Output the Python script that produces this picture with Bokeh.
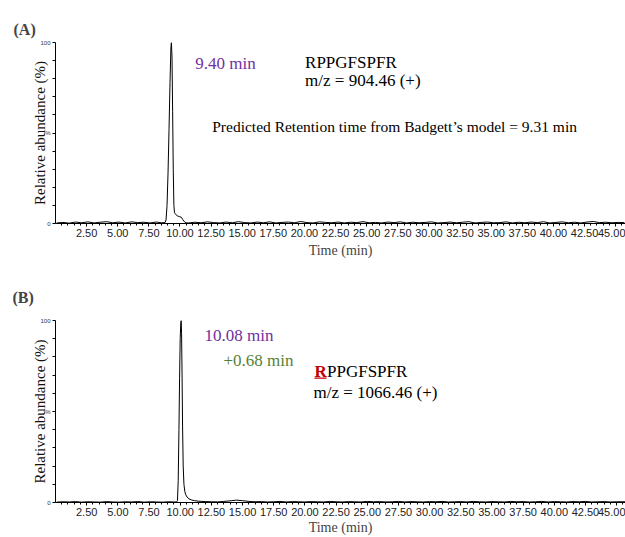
import math
from bokeh.plotting import figure
from bokeh.models import Label, FixedTicker, NumeralTickFormatter, BoxAnnotation, Range1d
from bokeh.layouts import column
from bokeh.embed import file_html
from bokeh.resources import INLINE

# ---------------- data ----------------
x_tick_values = [2.5, 5.0, 7.5, 10.0, 12.5, 15.0, 17.5, 20.0, 22.5, 25.0, 27.5, 30.0,
                 32.5, 35.0, 37.5, 40.0, 42.5, 45.0]
y_tick_values = [0, 10, 20, 30, 40, 50, 60, 70, 80, 90, 100]
y_tick_labels = {0: "0", 50: "%", 100: "100"}

# Panel A: RPPGFSPFR, peak near 9.40 min
peak_a_time = [8.80, 8.88, 8.96, 9.04, 9.12, 9.20, 9.27, 9.31, 9.36, 9.41, 9.46, 9.51,
               9.56, 9.66, 9.80, 9.95, 10.10, 10.22, 10.35, 10.50]
peak_a_int = [0.5, 2, 10, 28, 52, 78, 97, 100, 92, 62, 30, 10,
              6, 5, 4.2, 3.8, 3.5, 2.2, 1.0, 0.4]
base_a_time = [0.1, 0.6, 1.1, 1.6, 2.1, 2.6, 3.1, 3.6, 4.1, 4.6, 5.1, 5.6, 6.1, 6.6, 7.1,
               7.6, 8.1, 8.5,
               10.7, 11.2, 11.7, 12.2, 12.7, 13.2, 13.7, 14.2, 14.7, 15.2, 15.7, 16.2,
               16.7, 17.2, 17.7, 18.2, 18.7, 19.2, 19.7, 20.2, 20.7, 21.2, 21.7, 22.2,
               22.7, 23.2, 23.7, 24.2, 24.7, 25.2, 25.7, 26.2, 26.7, 27.2, 27.7, 28.2,
               28.7, 29.2, 29.7, 30.2, 30.7, 31.2, 31.7, 32.2, 32.7, 33.2, 33.7, 34.2,
               34.7, 35.2, 35.7, 36.2, 36.7, 37.2, 37.7, 38.2, 38.7, 39.2, 39.7, 40.2,
               40.7, 41.2, 41.7, 42.2, 42.7, 43.2, 43.7, 44.2, 44.7, 45.2, 45.7]
base_a_int = [0.3, 0.6, 0.2, 0.8, 0.4, 0.9, 0.3, 0.7, 1.0, 0.4, 0.8, 0.3, 0.9, 0.5, 0.7,
              0.3, 0.8, 0.4,
              0.3, 0.7, 0.4, 0.9, 0.5, 0.3, 0.8, 0.4, 1.0, 0.5, 0.3, 0.8,
              0.4, 0.9, 0.3, 0.6, 0.8, 0.4, 1.1, 0.5, 0.3, 0.9, 0.6, 0.4,
              0.8, 0.3, 0.7, 0.5, 1.0, 0.4, 0.6, 0.3, 0.8, 0.5, 0.9, 0.3,
              0.7, 0.4, 0.6, 0.9, 0.3, 0.5, 0.8, 0.4, 0.7, 1.0, 0.3, 0.6,
              0.8, 0.4, 0.5, 0.9, 0.3, 0.7, 0.4, 0.8, 0.5, 1.0, 0.3, 0.6,
              0.9, 0.4, 0.7, 0.3, 0.8, 1.1, 0.5, 0.7, 0.4, 0.6, 0.5]

# Panel B: RRPPGFSPFR, peak near 10.08 min
peak_b_time = [9.70, 9.78, 9.84, 9.90, 9.95, 10.00, 10.05, 10.08, 10.11, 10.15, 10.19,
               10.24, 10.30, 10.37, 10.45, 10.55, 10.70, 10.90, 11.15, 11.50, 12.00,
               12.50, 13.00]
peak_b_int = [0.3, 1, 12, 40, 68, 90, 99, 100, 93, 70, 42,
              20, 10, 6, 4.2, 3.0, 2.0, 1.4, 1.0, 0.7, 0.5,
              0.4, 0.35]
base_b_time = [0.1, 0.6, 1.1, 1.6, 2.1, 2.6, 3.1, 3.6, 4.1, 4.6, 5.1, 5.6, 6.1, 6.6, 7.1,
               7.6, 8.1, 8.6, 9.1, 9.5,
               13.5, 14.0, 14.5, 15.0, 15.5, 16.0, 16.5, 17.0, 17.5, 18.0, 18.5, 19.0,
               19.5, 20.0, 20.5, 21.0, 21.5, 22.0, 22.5, 23.0, 23.5, 24.0, 24.5, 25.0,
               25.5, 26.0, 26.5, 27.0, 27.5, 28.0, 28.5, 29.0, 29.5, 30.0, 30.5, 31.0,
               31.5, 32.0, 32.5, 33.0, 33.5, 34.0, 34.5, 35.0, 35.5, 36.0, 36.5, 37.0,
               37.5, 38.0, 38.5, 39.0, 39.5, 40.0, 40.5, 41.0, 41.5, 42.0, 42.5, 43.0,
               43.5, 44.0, 44.5, 45.0, 45.7]
base_b_int = [0.2, 0.4, 0.3, 0.5, 0.2, 0.4, 0.3, 0.2, 0.5, 0.3, 0.2, 0.4, 0.3, 0.5, 0.2,
              0.4, 0.3, 0.2, 0.4, 0.3,
              0.6, 0.9, 1.3, 1.0, 0.6, 0.4, 0.5, 0.3, 0.4, 0.6, 0.3, 0.5,
              0.4, 0.3, 0.5, 0.4, 0.3, 0.6, 0.4, 0.3, 0.5, 0.4, 0.3, 0.6,
              0.4, 0.5, 0.3, 0.4, 0.6, 0.3, 0.5, 0.4, 0.3, 0.5, 0.4, 0.6,
              0.3, 0.4, 0.5, 0.3, 0.6, 0.4, 0.3, 0.5, 0.4, 0.3, 0.6, 0.4,
              0.5, 0.3, 0.4, 0.6, 0.3, 0.5, 0.4, 0.3, 0.5, 0.4, 0.6, 0.3,
              0.4, 0.5, 0.3, 0.4, 0.4]

# ---------------- styling ----------------
SERIF = "Liberation Serif"
SANS = "Liberation Sans Narrow, Liberation Sans"
PURPLE = "#7030A0"
GREEN = "#548235"
RED = "#C00000"
PX_PER_MIN = 12.47
FIG_W = 625


def merged(t1, i1, t2, i2):
    pts = sorted(zip(list(t1) + list(t2), list(i1) + list(i2)))
    return [a for a, _ in pts], [b for _, b in pts]


def make_panel(time, inten, height, b_top, b_bottom, b_left, tag, tag_standoff, xlabel_standoff):
    x_end = (FIG_W - b_left) / PX_PER_MIN
    p = figure(width=FIG_W, height=height, output_backend="svg", toolbar_location=None,
               x_range=Range1d(0, x_end), y_range=Range1d(0, 100),
               min_border_left=b_left, min_border_right=0,
               min_border_top=b_top, min_border_bottom=b_bottom)
    p.outline_line_color = None
    p.xgrid.visible = False
    p.ygrid.visible = False
    p.line(time, inten, line_color="black", line_width=1)

    p.title.text = tag
    p.title.text_font = SERIF
    p.title.text_font_size = "16px"
    p.title.text_font_style = "bold"
    p.title.align = "left"
    p.title.offset = 12 - b_left
    p.title.standoff = tag_standoff

    xa = p.xaxis[0]
    xa.ticker = FixedTicker(ticks=x_tick_values, minor_ticks=[k * 0.5 for k in range(1, 92)])
    xa.formatter = NumeralTickFormatter(format="0.00")
    xa.major_label_text_font = SANS
    xa.major_label_text_font_size = "11px"
    xa.major_label_text_color = "#222222"
    xa.major_label_standoff = 2
    xa.major_tick_in = 0
    xa.major_tick_out = 3
    xa.minor_tick_in = 0
    xa.minor_tick_out = 2
    xa.axis_line_color = "black"
    xa.axis_label = "Time (min)"
    xa.axis_label_text_font = SERIF
    xa.axis_label_text_font_size = "14px"
    xa.axis_label_text_font_style = "normal"
    xa.axis_label_standoff = xlabel_standoff

    ya = p.yaxis[0]
    ya.ticker = FixedTicker(ticks=y_tick_values, minor_ticks=[])
    ya.major_label_overrides = {k: y_tick_labels.get(k, "") for k in y_tick_values}
    ya.major_label_text_font = SANS
    ya.major_label_text_font_size = "6px"
    ya.major_label_text_color = "#333333"
    ya.major_label_standoff = 2
    ya.major_tick_in = 0
    ya.major_tick_out = 3
    ya.minor_tick_in = 0
    ya.minor_tick_out = 0
    ya.axis_line_color = "black"
    ya.axis_label = "Relative abundance (%)"
    ya.axis_label_text_font = SERIF
    ya.axis_label_text_font_size = "15px"
    ya.axis_label_text_font_style = "normal"
    ya.axis_label_text_color = "#111111"
    ya.axis_label_standoff = -11
    return p


def add_text(p, conv, px, py, text, size, color="black", bold=False):
    x, y = conv(px, py)
    p.add_layout(Label(x=x, y=y, text=text, text_font=SERIF, text_font_size=size,
                       text_color=color, text_font_style="bold" if bold else "normal",
                       text_align="left", text_baseline="middle"))


# ---------------- panel A ----------------
ta, ia = merged(base_a_time, base_a_int, peak_a_time, peak_a_int)
pa = make_panel(ta, ia, 260, 42, 34, 54, "(A)", 10, 3)


def conv_a(px, py):
    return (px - 54) / PX_PER_MIN, (226 - py) / 1.84


add_text(pa, conv_a, 194, 63.5, "9.40 min", "17px", color=PURPLE)
add_text(pa, conv_a, 304, 62.5, "RPPGFSPFR", "17px")
add_text(pa, conv_a, 304, 81, "m/z = 904.46 (+)", "17px")
add_text(pa, conv_a, 211, 127, "Predicted Retention time from Badgett\u2019s model = 9.31 min", "15.5px")

# ---------------- panel B ----------------
tb, ib = merged(base_b_time, base_b_int, peak_b_time, peak_b_int)
pb = make_panel(tb, ib, 277, 60, 33, 55, "(B)", 29, 1)


def conv_b(px, py):
    return (px - 55) / PX_PER_MIN, (504 - py) / 1.84


add_text(pb, conv_b, 204, 335, "10.08 min", "17px", color=PURPLE)
add_text(pb, conv_b, 223, 360, "+0.68 min", "17px", color=GREEN)
add_text(pb, conv_b, 314, 371.5, "R", "17px", color=RED, bold=True)
add_text(pb, conv_b, 326.5, 371.5, "PPGFSPFR", "17px")
add_text(pb, conv_b, 313, 393, "m/z = 1066.46 (+)", "17px")

ul_left, ul_bottom = conv_b(314, 379)
ul_right, ul_top = conv_b(326, 377.5)
pb.add_layout(BoxAnnotation(left=ul_left, right=ul_right, bottom=ul_bottom, top=ul_top,
                            fill_color=RED, fill_alpha=1.0, line_color=None))

layout = column(pa, pb, spacing=0)
open("out.html", "w").write(file_html(layout, INLINE))
